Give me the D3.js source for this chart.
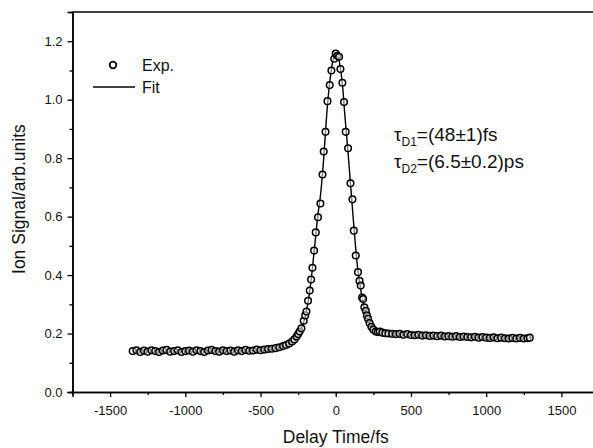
<!DOCTYPE html>
<html>
<head>
<meta charset="utf-8">
<script src="https://cdn.jsdelivr.net/npm/d3@7"></script>
<style>
  body { margin: 0; background: #fff; }
  text { font-family: "Liberation Sans", Arial, sans-serif; fill: #111; }
</style>
</head>
<body>
<script>
// Experimental points (delay time in fs, ion signal in arb. units)
const expTime = [
  -1350, -1325, -1300, -1275, -1250, -1225, -1200, -1175, -1150, -1125,
  -1100, -1075, -1050, -1025, -1000, -975, -950, -925, -900, -875,
  -850, -825, -800, -775, -750, -725, -700, -675, -650, -625,
  -600, -575, -550, -525, -500, -475, -450, -425, -400, -375,
  -350, -330, -310, -290, -275, -260, -250, -240, -228, -213,
  -203, -195, -184, -173, -164, -155, -144, -133, -118, -102,
  -88, -80, -68, -55, -40, -29, -10, 0, 10, 22,
  31, 44, 55, 66, 82, 98, 111, 120, 133, 148,
  158, 166, 175, 182, 190, 200, 207, 215, 225, 237,
  250, 266, 280, 293, 310, 330, 350, 375, 400, 425,
  450, 475, 500, 525, 550, 575, 600, 625, 650, 675,
  700, 725, 750, 775, 800, 825, 850, 875, 900, 925,
  950, 975, 1000, 1025, 1050, 1075, 1100, 1125, 1150, 1175,
  1200, 1225, 1250, 1275, 1290
];
const expSignal = [
  0.140, 0.143, 0.137, 0.142, 0.138, 0.143, 0.140, 0.137, 0.142, 0.144,
  0.138, 0.140, 0.143, 0.137, 0.140, 0.142, 0.138, 0.143, 0.140, 0.137,
  0.142, 0.144, 0.140, 0.138, 0.143, 0.140, 0.142, 0.138, 0.143, 0.140,
  0.144, 0.141, 0.142, 0.145, 0.143, 0.145, 0.147, 0.148, 0.150, 0.153,
  0.157, 0.161, 0.166, 0.173, 0.180, 0.190, 0.198, 0.207, 0.218, 0.244,
  0.262, 0.275, 0.312, 0.347, 0.385, 0.425, 0.484, 0.546, 0.598, 0.645,
  0.744, 0.823, 0.890, 0.995, 1.050, 1.100, 1.140, 1.158, 1.150, 1.147,
  1.105, 1.058, 0.992, 0.890, 0.834, 0.714, 0.659, 0.552, 0.467, 0.410,
  0.380, 0.364, 0.323, 0.318, 0.290, 0.278, 0.262, 0.250, 0.236, 0.223,
  0.214, 0.207, 0.205, 0.207, 0.203, 0.201, 0.200, 0.199, 0.198, 0.199,
  0.196, 0.198, 0.195, 0.194, 0.196, 0.193, 0.194, 0.192, 0.193, 0.191,
  0.193, 0.190, 0.191, 0.189, 0.191, 0.188, 0.190, 0.188, 0.187, 0.189,
  0.186, 0.188, 0.186, 0.185, 0.187, 0.184, 0.186, 0.184, 0.183, 0.185,
  0.183, 0.185, 0.183, 0.184, 0.186
];

// Fitted curve
const fitTime = [
  -1350, -1000, -700, -500, -400, -350, -300, -260, -230, -200,
  -180, -160, -140, -120, -100, -80, -60, -40, -20, 0,
  15, 30, 45, 60, 80, 100, 120, 140, 160, 180,
  200, 220, 240, 270, 300, 400, 600, 800, 1000, 1290
];
const fitSignal = [
  0.140, 0.140, 0.141, 0.143, 0.149, 0.156, 0.168, 0.188, 0.215, 0.265,
  0.320, 0.400, 0.500, 0.600, 0.680, 0.800, 0.950, 1.060, 1.130, 1.155,
  1.150, 1.110, 1.050, 0.950, 0.830, 0.700, 0.570, 0.450, 0.370, 0.310,
  0.270, 0.243, 0.225, 0.212, 0.206, 0.199, 0.193, 0.189, 0.186, 0.184
];

// Axis ticks
const xTicks = [-1500, -1000, -500, 0, 500, 1000, 1500];
const xMinorTicks = [-1750, -1250, -750, -250, 250, 750, 1250];
const yTicks = [0.0, 0.2, 0.4, 0.6, 0.8, 1.0, 1.2];
const yMinorTicks = [0.1, 0.3, 0.5, 0.7, 0.9, 1.1];

const width = 593, height = 448;
const margin = { left: 72.5, top: 12, right: -6, bottom: 56 };

const svg = d3.select('body')
  .append('svg')
  .attr('width', width)
  .attr('height', height);

const x = d3.scaleLinear()
  .domain([-1750, 1750])
  .range([margin.left, width - margin.right]);

const y = d3.scaleLinear()
  .domain([0, 1.3])
  .range([height - margin.bottom, margin.top]);

// Fit line
const line = d3.line()
  .x((d, i) => x(fitTime[i]))
  .y(d => y(d))
  .curve(d3.curveMonotoneX);

svg.append('path')
  .datum(fitSignal)
  .attr('d', line)
  .attr('fill', 'none')
  .attr('stroke', '#000')
  .attr('stroke-width', 1.4);

// Experimental circles
svg.append('g')
  .selectAll('circle')
  .data(expSignal)
  .enter()
  .append('circle')
  .attr('cx', (d, i) => x(expTime[i]))
  .attr('cy', d => y(d))
  .attr('r', 3.3)
  .attr('fill', '#fff')
  .attr('fill-opacity', 0.5)
  .attr('stroke', '#000')
  .attr('stroke-width', 1.5);

// Axes
svg.append('g')
  .attr('transform', `translate(0,${y(0)})`)
  .call(d3.axisBottom(x).tickValues(xTicks).tickSize(5).tickPadding(9)
    .tickFormat(d => d < 0 ? '-' + Math.abs(d) : d));
svg.append('g')
  .attr('transform', `translate(0,${y(0)})`)
  .call(d3.axisBottom(x).tickValues(xMinorTicks).tickSize(3).tickFormat(''));

svg.append('g')
  .attr('transform', `translate(${margin.left},0)`)
  .call(d3.axisLeft(y).tickValues(yTicks).tickSize(5).tickPadding(5)
    .tickFormat(d3.format('.1f')));
svg.append('g')
  .attr('transform', `translate(${margin.left},0)`)
  .call(d3.axisLeft(y).tickValues(yMinorTicks).tickSize(3).tickFormat(''));

svg.selectAll('.domain').attr('stroke', '#000').attr('stroke-width', 1.5);
svg.selectAll('.tick line').attr('stroke', '#000').attr('stroke-width', 1.3);
svg.selectAll('.tick text').style('font-size', '13px').attr('fill', '#111');

// Top frame line
svg.append('line')
  .attr('x1', margin.left).attr('x2', width)
  .attr('y1', margin.top).attr('y2', margin.top)
  .attr('stroke', '#000').attr('stroke-width', 1.5);

// Axis titles
svg.append('text')
  .attr('x', x(0))
  .attr('y', 443)
  .attr('text-anchor', 'middle')
  .style('font-size', '17.5px')
  .text('Delay Time/fs');

svg.append('text')
  .attr('transform', `translate(25,${y(0.66)}) rotate(-90)`)
  .attr('text-anchor', 'middle')
  .style('font-size', '17.5px')
  .text('Ion Signal/arb.units');

// Legend
svg.append('circle')
  .attr('cx', 113).attr('cy', 65).attr('r', 3.3)
  .attr('fill', '#fff').attr('stroke', '#000').attr('stroke-width', 1.8);
svg.append('text').attr('x', 142).attr('y', 71).style('font-size', '16px').text('Exp.');
svg.append('line')
  .attr('x1', 93).attr('x2', 135).attr('y1', 87).attr('y2', 87)
  .attr('stroke', '#000').attr('stroke-width', 1.4);
svg.append('text').attr('x', 142).attr('y', 93).style('font-size', '16px').text('Fit');

// Lifetime annotation
const notes = [
  { sub: 'D1', rest: '=(48±1)fs', y: 141 },
  { sub: 'D2', rest: '=(6.5±0.2)ps', y: 168 }
];
notes.forEach(n => {
  const t = svg.append('text').attr('x', 394).attr('y', n.y).style('font-size', '19px');
  t.append('tspan').text('τ');
  t.append('tspan').attr('dy', 5).style('font-size', '12px').text(n.sub);
  t.append('tspan').attr('dy', -5).text(n.rest);
});
</script>
</body>
</html>
